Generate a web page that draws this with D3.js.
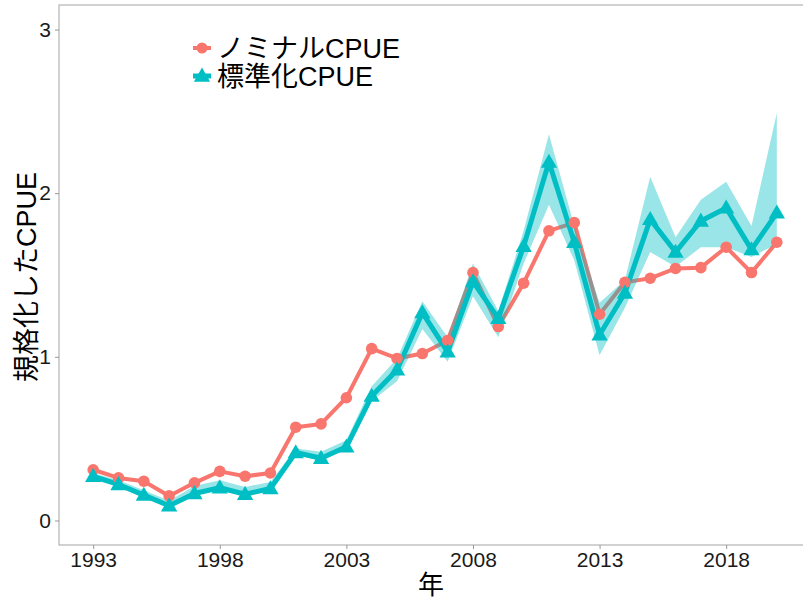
<!DOCTYPE html>
<html>
<head>
<meta charset="utf-8">
<script src="https://cdn.jsdelivr.net/npm/d3@7"></script>
<style>
  body { margin: 0; background: #fff; }
  text { font-family: "Liberation Sans", "Noto Sans CJK JP", sans-serif; }
</style>
</head>
<body>
<div id="chart"></div>
<script>
// data
var years = d3.range(1993, 2021);
var nominal = [0.31, 0.26, 0.24, 0.15, 0.23, 0.30, 0.27, 0.29, 0.57, 0.59,
               0.75, 1.05, 0.99, 1.02, 1.10, 1.515, 1.185, 1.45, 1.77, 1.82,
               1.26, 1.455, 1.48, 1.54, 1.545, 1.67, 1.515, 1.70];
var standard = [0.27, 0.22, 0.155, 0.09, 0.165, 0.20, 0.16, 0.195, 0.415, 0.38,
                0.45, 0.76, 0.92, 1.27, 1.03, 1.46, 1.235, 1.675, 2.19, 1.70,
                1.135, 1.39, 1.84, 1.64, 1.83, 1.91, 1.655, 1.88];
var stdLower = [0.25, 0.205, 0.14, 0.08, 0.155, 0.19, 0.15, 0.185, 0.40, 0.365,
                0.435, 0.73, 0.85, 1.17, 0.97, 1.37, 1.12, 1.57, 1.93, 1.59,
                1.01, 1.30, 1.64, 1.55, 1.67, 1.67, 1.61, 1.69];
var stdUpper = [0.29, 0.245, 0.185, 0.12, 0.21, 0.245, 0.205, 0.235, 0.44, 0.42,
                0.49, 0.82, 0.99, 1.34, 1.12, 1.57, 1.28, 1.77, 2.36, 1.80,
                1.33, 1.47, 2.10, 1.73, 1.96, 2.07, 1.80, 2.49];
var xTicks = [1993, 1998, 2003, 2008, 2013, 2018];
var yTicks = [0, 1, 2, 3];
var seriesNames = ["ノミナルCPUE", "標準化CPUE"];
var seriesColors = ["#F8766D", "#00BFC4"];

var svgWidth = 803, svgHeight = 606;
var panel = { left: 59, right: 811, top: 5, bottom: 545 };

var svg = d3.select("#chart").append("svg")
  .attr("width", svgWidth)
  .attr("height", svgHeight);

var x = d3.scaleLinear()
  .domain([1993 - 1.35, 2020 + 1.35])
  .range([panel.left, panel.right]);
var y = d3.scaleLinear()
  .domain([-0.15, 3.15])
  .range([panel.bottom, panel.top]);

svg.append("clipPath").attr("id", "clip")
  .append("rect")
  .attr("x", panel.left).attr("y", panel.top)
  .attr("width", panel.right - panel.left)
  .attr("height", panel.bottom - panel.top);

var plot = svg.append("g").attr("clip-path", "url(#clip)");

var nomData = years.map((yr, i) => ({ year: yr, v: nominal[i] }));
var stdData = years.map((yr, i) => ({ year: yr, v: standard[i], lo: stdLower[i], hi: stdUpper[i] }));

var line = d3.line().x(d => x(d.year)).y(d => y(d.v));

// lines first
plot.append("path").datum(nomData)
  .attr("d", line).attr("fill", "none")
  .attr("stroke", seriesColors[0]).attr("stroke-width", 4)
  .attr("stroke-linejoin", "round");
plot.append("path").datum(stdData)
  .attr("d", line).attr("fill", "none")
  .attr("stroke", seriesColors[1]).attr("stroke-width", 5)
  .attr("stroke-linejoin", "round");

// ribbon drawn over the lines
var area = d3.area().x(d => x(d.year)).y0(d => y(d.lo)).y1(d => y(d.hi));
plot.append("path").datum(stdData)
  .attr("d", area)
  .attr("fill", seriesColors[1]).attr("fill-opacity", 0.4);

// points
plot.selectAll(".nom").data(nomData).enter().append("circle")
  .attr("cx", d => x(d.year)).attr("cy", d => y(d.v))
  .attr("r", 5.8).attr("fill", seriesColors[0]);

var tri = d3.symbol().type(d3.symbolTriangle).size(115);
plot.selectAll(".std").data(stdData).enter().append("path")
  .attr("d", tri)
  .attr("transform", d => `translate(${x(d.year)},${y(d.v) + 1})`)
  .attr("fill", seriesColors[1]);

// panel border
svg.append("rect")
  .attr("x", panel.left).attr("y", panel.top)
  .attr("width", panel.right - panel.left)
  .attr("height", panel.bottom - panel.top)
  .attr("fill", "none").attr("stroke", "#b3b3b3").attr("stroke-width", 1.2);

// axes
var xAxis = svg.append("g")
  .attr("transform", `translate(0,${panel.bottom})`)
  .call(d3.axisBottom(x).tickValues(xTicks).tickFormat(d3.format("d")).tickSize(4).tickPadding(3));
var yAxis = svg.append("g")
  .attr("transform", `translate(${panel.left},0)`)
  .call(d3.axisLeft(y).tickValues(yTicks).tickFormat(d3.format("d")).tickSize(4).tickPadding(4));

[xAxis, yAxis].forEach(function(a) {
  a.select(".domain").remove();
  a.selectAll(".tick line").attr("stroke", "#999");
  a.selectAll(".tick text").attr("fill", "#1a1a1a").style("font-size", "21px");
});

// axis titles
svg.append("text")
  .attr("x", 431).attr("y", 594)
  .attr("text-anchor", "middle")
  .style("font-size", "26px").attr("fill", "#000")
  .text("年");

svg.append("text")
  .attr("transform", "translate(36,277) rotate(-90)")
  .attr("text-anchor", "middle")
  .style("font-size", "27px").attr("fill", "#000")
  .text("規格化したCPUE");

// legend
var legend = svg.append("g");
seriesNames.forEach(function(name, i) {
  var ly = 48 + i * 28;
  var g = legend.append("g").attr("transform", `translate(202,${ly})`);
  g.append("line").attr("x1", -9).attr("x2", 9)
    .attr("stroke", seriesColors[i]).attr("stroke-width", i ? 5 : 4);
  if (i === 0) {
    g.append("circle").attr("r", 5.5).attr("fill", seriesColors[i]);
  } else {
    g.append("path").attr("d", tri).attr("transform", "translate(0,1)").attr("fill", seriesColors[i]);
  }
  legend.append("text")
    .attr("x", 217).attr("y", ly + 10)
    .style("font-size", "27px").attr("fill", "#000")
    .text(name);
});
</script>
</body>
</html>
